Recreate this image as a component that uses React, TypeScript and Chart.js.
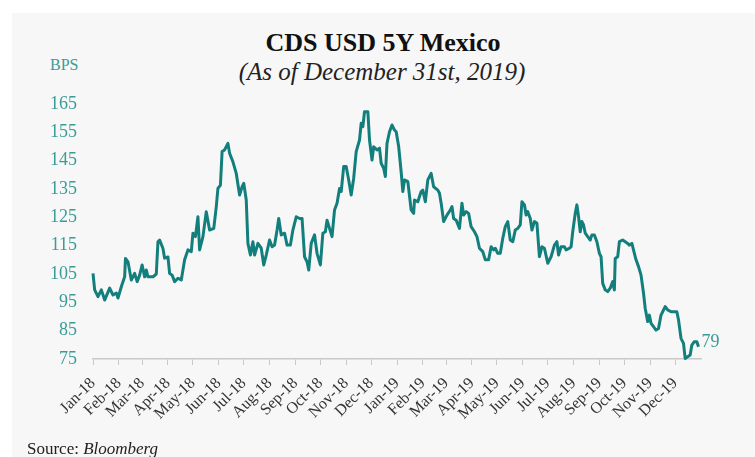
import React, { useEffect, useRef } from "react";
import { Chart, registerables } from "chart.js";

Chart.register(...registerables);

const TITLE = "CDS USD 5Y Mexico";
const SUBTITLE = "(As of December 31st, 2019)";
const UNIT = "BPS";
const SOURCE_LABEL = "Source: ";
const SOURCE_NAME = "Bloomberg";
const LAST_LABEL = "79";

const MONTH_LABELS = [
  "Jan-18", "Feb-18", "Mar-18", "Apr-18", "May-18", "Jun-18",
  "Jul-18", "Aug-18", "Sep-18", "Oct-18", "Nov-18", "Dec-18",
  "Jan-19", "Feb-19", "Mar-19", "Apr-19", "May-19", "Jun-19",
  "Jul-19", "Aug-19", "Sep-19", "Oct-19", "Nov-19", "Dec-19",
];

const Y_TICKS = [75, 85, 95, 105, 115, 125, 135, 145, 155, 165];

// days since 1 Jan 2018
const DAY_OFFSETS = [
  0, 2, 6, 10, 14, 20, 24, 28, 30, 34,
  38, 39, 42, 46, 50, 53, 56, 59, 62, 64,
  66, 72, 76, 78, 80, 84, 86, 90, 92, 95,
  98, 102, 106, 110, 114, 118, 120, 123, 126, 128,
  132, 136, 140, 145, 148, 150, 153, 155, 158, 162,
  164, 168, 172, 176, 179, 181, 184, 186, 189, 192,
  194, 198, 202, 205, 208, 212, 215, 218, 221, 223,
  226, 230, 233, 237, 240, 244, 248, 251, 254, 257,
  259, 262, 266, 269, 273, 276, 279, 281, 284, 287,
  290, 293, 296, 298, 301, 304, 307, 310, 313, 316,
  320, 322, 324, 326, 330, 332, 335, 337, 341, 344,
  346, 349, 351, 353, 356, 359, 362, 364, 367, 370,
  372, 374, 378, 382, 385, 386, 390, 394, 396, 399,
  402, 406, 409, 414, 416, 418, 421, 425, 429, 431,
  433, 436, 440, 443, 445, 448, 451, 454, 458, 461,
  464, 468, 471, 475, 478, 481, 483, 486, 489, 492,
  495, 498, 501, 504, 507, 510, 513, 515, 518, 520,
  522, 525, 527, 530, 533, 536, 539, 542, 546, 550,
  554, 557, 559, 562, 566, 568, 572, 574, 576, 579,
  581, 583, 585, 587, 589, 591, 594, 597, 599, 602,
  605, 608, 610, 612, 615, 618, 621, 624, 626, 627,
  630, 632, 636, 639, 642, 644, 647, 650, 652, 655,
  658, 661, 663, 666, 668, 670, 673, 676, 679, 682,
  685, 687, 690, 694, 698, 701, 703, 706, 709, 711,
  714, 717, 719, 722, 725, 727,
];

const CDS_VALUES = [
  105.2, 99.4, 97, 99.4, 95.8, 100, 97.6, 98.3, 96.5, 100.5,
  104, 110.5, 109.3, 102.9, 105.2, 102.3, 104.6, 108.2, 104, 106.4,
  104, 104, 105, 116.4, 117, 114, 110.6, 111, 105.2, 104.6,
  102.3, 103.5, 102.9, 110, 113.5, 112.9, 119.4, 118.2, 125.2, 113.5,
  118.2, 127, 120.5, 121.1, 128.7, 135.2, 136.4, 148.2, 148.8, 151.1,
  147.6, 144.6, 140.5, 132.9, 135.8, 137, 131.1, 115.8, 111.7, 116.4,
  111.7, 115.8, 114.1, 108.2, 111.7, 117, 114.6, 115.2, 120.5, 124.6,
  118.8, 119.4, 115.2, 115.2, 120.5, 125.2, 124.6, 124.6, 111.1, 109.3,
  106.4, 115.8, 118.8, 112.3, 108.2, 119.4, 119.9, 124, 121.1, 118.2,
  127.6, 130, 135.2, 134.1, 142.9, 142.9, 138.2, 132.9, 138.8, 148.2,
  152.3, 158.2, 157, 162.3, 162.3, 152.3, 145.2, 149.9, 148.8, 149.4,
  144.1, 142.3, 139.4, 151.1, 155.2, 157.6, 155.8, 155.2, 150, 141,
  134.1, 138.2, 137.6, 127.6, 126.4, 131.1, 130.5, 134.1, 134.6, 130.5,
  138.2, 140.5, 135.8, 134.6, 133.5, 130, 123.5, 125.8, 127.6, 128.8,
  124.6, 124, 121.1, 130, 125.8, 127, 126.4, 121.7, 119.9, 118.2,
  114.1, 112.9, 110, 110, 114.6, 113.5, 114.1, 112.3, 112.3, 117.6,
  121.7, 123.5, 117, 116.4, 120.5, 121.1, 122.3, 130.5, 129.4, 125.8,
  127, 124.6, 120.5, 123.5, 122.9, 111.1, 114.6, 114.1, 108.8, 111.1,
  115.2, 116.4, 111.7, 114.6, 114.6, 113.5, 114.1, 114.6, 119.9, 126.4,
  129.4, 125.2, 119.9, 123.5, 122.3, 119.4, 118.2, 117, 118.8, 118.8,
  116.4, 112.3, 111.1, 101.7, 99.4, 98.8, 100, 102.3, 99.4, 110.5,
  111.1, 116.4, 117, 116.4, 115.8, 115.2, 115.8, 112.3, 110, 107.6,
  104.6, 98.2, 92.9, 88.2, 90.5, 87.6, 86.4, 85.2, 85.8, 90.5,
  92.3, 93.5, 92.3, 91.7, 91.7, 91.7, 88.8, 82.3, 80.5, 75.2,
  75.8, 76.4, 79.9, 81.1, 81.1, 79.3,
];

const DAY_MS = 86400000;
const START_MS = Date.UTC(2018, 0, 1);
const MONTH_STARTS = MONTH_LABELS.map(
  (_, i) => Math.round((Date.UTC(2018 + Math.floor(i / 12), i % 12, 1) - START_MS) / DAY_MS)
);
const END_DAY = Math.round((Date.UTC(2020, 0, 1) - START_MS) / DAY_MS);

const LINE_COLOR = "#137f7d";
const TICK_TEAL = "#3a9c97";
const SERIF = "'Liberation Serif', 'Times New Roman', serif";

export default function App() {
  const canvasRef = useRef<HTMLCanvasElement | null>(null);

  useEffect(() => {
    const canvas = canvasRef.current;
    if (!canvas) return;

    const endLabel = {
      id: "endLabel",
      afterDatasetsDraw(chart: any) {
        const meta = chart.getDatasetMeta(0);
        const pt = meta.data[meta.data.length - 1];
        if (!pt) return;
        const ctx = chart.ctx;
        ctx.save();
        ctx.font = `18px ${SERIF}`;
        ctx.fillStyle = TICK_TEAL;
        ctx.textAlign = "left";
        ctx.textBaseline = "middle";
        ctx.fillText(LAST_LABEL, pt.x + 3, pt.y - 5);
        ctx.restore();
      },
    };

    const chart = new Chart(canvas, {
      type: "line",
      data: {
        datasets: [
          {
            data: DAY_OFFSETS.map((d, i) => ({ x: d, y: CDS_VALUES[i] })),
            borderColor: LINE_COLOR,
            borderWidth: 3,
            pointRadius: 0,
            tension: 0,
            fill: false,
            borderJoinStyle: "round",
            clip: false as any,
          },
        ],
      },
      options: {
        animation: false,
        responsive: false,
        maintainAspectRatio: false,
        layout: { padding: { top: 104, right: 54, bottom: 0, left: 0 } },
        plugins: {
          legend: { display: false },
          tooltip: { enabled: false },
          title: { display: false },
        },
        scales: {
          x: {
            type: "linear",
            min: 0,
            max: END_DAY,
            afterBuildTicks: (scale: any) => {
              scale.ticks = MONTH_STARTS.map((v) => ({ value: v }));
            },
            afterFit: (scale: any) => {
              scale.height = 98;
            },
            ticks: {
              autoSkip: false,
              maxRotation: 45,
              minRotation: 45,
              padding: 9,
              color: "#333333",
              font: { family: SERIF, size: 16 },
              callback: (_v: any, i: number) => MONTH_LABELS[i],
            },
            grid: {
              display: true,
              drawOnChartArea: false,
              drawTicks: true,
              tickLength: 6,
              color: "#c9c9c9",
            },
            border: { display: true, color: "#c9c9c9", width: 1.5 },
          },
          y: {
            min: 75,
            max: 165,
            afterBuildTicks: (scale: any) => {
              scale.ticks = Y_TICKS.map((v) => ({ value: v }));
            },
            afterFit: (scale: any) => {
              scale.width = 93;
            },
            ticks: {
              padding: 16,
              color: TICK_TEAL,
              font: { family: SERIF, size: 18 },
            },
            grid: { display: false, drawTicks: false },
            border: { display: false },
          },
        },
      },
      plugins: [endLabel],
    });

    return () => chart.destroy();
  }, []);

  return (
    <div style={{ position: "fixed", left: 0, top: 0, width: 755, height: 457, background: "#ffffff", overflow: "hidden" }}>
      <div style={{ position: "absolute", left: 12, top: 13, width: 743, height: 444, background: "#f7f7f7" }} />
      <div
        style={{
          position: "absolute", left: 383, top: 30, transform: "translateX(-50%)",
          whiteSpace: "nowrap", fontFamily: SERIF, fontWeight: "bold", fontSize: 26, lineHeight: 1, color: "#111",
        }}
      >
        {TITLE}
      </div>
      <div
        style={{
          position: "absolute", left: 382, top: 59, transform: "translateX(-50%)",
          whiteSpace: "nowrap", fontFamily: SERIF, fontStyle: "italic", fontSize: 25, lineHeight: 1, color: "#222",
        }}
      >
        {SUBTITLE}
      </div>
      <div
        style={{
          position: "absolute", left: 50, top: 57, whiteSpace: "nowrap",
          fontFamily: SERIF, fontSize: 16, lineHeight: 1, color: TICK_TEAL,
        }}
      >
        {UNIT}
      </div>
      <canvas ref={canvasRef} width={755} height={457} style={{ position: "absolute", left: 0, top: 0, width: 755, height: 457 }} />
      <div
        style={{
          position: "absolute", left: 27, top: 440, whiteSpace: "nowrap",
          fontFamily: SERIF, fontSize: 17, lineHeight: 1, color: "#222",
        }}
      >
        {SOURCE_LABEL}
        <span style={{ fontStyle: "italic" }}>{SOURCE_NAME}</span>
      </div>
    </div>
  );
}
